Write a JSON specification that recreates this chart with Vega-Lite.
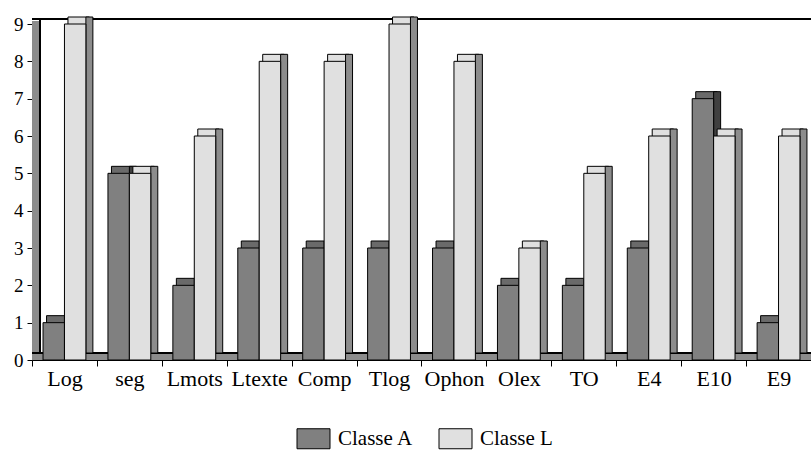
{
  "$schema": "https://vega.github.io/schema/vega-lite/v6.json",
  "autosize": {"type": "none"},
  "padding": {"left": 32, "top": 24, "right": 0, "bottom": 90},
  "width": 779,
  "height": 336,
  "background": "white",
  "config": {
    "view": {"stroke": null},
    "font": "Liberation Serif, Times New Roman, Times, serif",
    "axis": {"labelFont": "Liberation Serif, Times New Roman, Times, serif", "labelColor": "black", "domainColor": "black", "tickColor": "black", "grid": false, "title": null},
    "axisY": {"labelFontSize": 19, "tickSize": 5, "labelPadding": 4, "tickCount": 10},
    "legend": {"labelFont": "Liberation Serif, Times New Roman, Times, serif"}
  },
  "data": {"values": [
    {"cat": "Log", "series": "Classe A", "value": 1},
    {"cat": "Log", "series": "Classe L", "value": 9},
    {"cat": "seg", "series": "Classe A", "value": 5},
    {"cat": "seg", "series": "Classe L", "value": 5},
    {"cat": "Lmots", "series": "Classe A", "value": 2},
    {"cat": "Lmots", "series": "Classe L", "value": 6},
    {"cat": "Ltexte", "series": "Classe A", "value": 3},
    {"cat": "Ltexte", "series": "Classe L", "value": 8},
    {"cat": "Comp", "series": "Classe A", "value": 3},
    {"cat": "Comp", "series": "Classe L", "value": 8},
    {"cat": "Tlog", "series": "Classe A", "value": 3},
    {"cat": "Tlog", "series": "Classe L", "value": 9},
    {"cat": "Ophon", "series": "Classe A", "value": 3},
    {"cat": "Ophon", "series": "Classe L", "value": 8},
    {"cat": "Olex", "series": "Classe A", "value": 2},
    {"cat": "Olex", "series": "Classe L", "value": 3},
    {"cat": "TO", "series": "Classe A", "value": 2},
    {"cat": "TO", "series": "Classe L", "value": 5},
    {"cat": "E4", "series": "Classe A", "value": 3},
    {"cat": "E4", "series": "Classe L", "value": 6},
    {"cat": "E10", "series": "Classe A", "value": 7},
    {"cat": "E10", "series": "Classe L", "value": 6},
    {"cat": "E9", "series": "Classe A", "value": 1},
    {"cat": "E9", "series": "Classe L", "value": 6}
  ]},
  "encoding": {
    "x": {
      "field": "cat", "type": "nominal", "sort": null,
      "scale": {"paddingInner": 0.34, "paddingOuter": 0.17},
      "axis": {
        "title": null, "labelAngle": 0, "labelFontSize": 22, "tickSize": 6,
        "tickOffset": -32.46, "labelOffset": 32.46, "labelPadding": 2
      }
    }
  },
  "layer": [
    {
      "mark": {"type": "rule", "color": "black", "strokeWidth": 1, "xOffset": 8, "x2Offset": 8, "yOffset": -5},
      "encoding": {"x": null, "y": {"datum": 9, "type": "quantitative", "scale": {"domain": [0, 9], "nice": false},
        "axis": {"title": null, "values": [0,1,2,3,4,5,6,7,8,9]}}}
    },
    {
      "mark": {"type": "rule", "color": "#8c8c8c", "strokeWidth": 8, "xOffset": -28.45, "yOffset": -3, "y2Offset": -3},
      "encoding": {"x": {"datum": "Log", "type": "nominal"}, "y": {"datum": 0, "type": "quantitative"}, "y2": {"datum": 9}}
    },
    {
      "mark": {"type": "rule", "color": "black", "strokeWidth": 1, "xOffset": -24.45, "yOffset": -6, "y2Offset": -5},
      "encoding": {"x": {"datum": "Log", "type": "nominal"}, "y": {"datum": 0, "type": "quantitative"}, "y2": {"datum": 9}}
    },
    {
      "mark": {"type": "rule", "color": "#8c8c8c", "strokeWidth": 7, "xOffset": 4, "x2Offset": 4, "yOffset": -3.5},
      "encoding": {"x": null, "y": {"datum": 0, "type": "quantitative"}}
    },
    {
      "mark": {"type": "rule", "color": "black", "strokeWidth": 1, "xOffset": 7, "x2Offset": 7, "yOffset": -7},
      "encoding": {"x": null, "y": {"datum": 0, "type": "quantitative"}}
    },
    {
      "transform": [{"filter": "datum.series === 'Classe A'"}],
      "mark": {"type": "bar", "width": {"band": 0.5}, "xOffset": -7.21, "yOffset": -7, "fill": "#6a6a6a", "stroke": "black", "strokeWidth": 1},
      "encoding": {"y": {"field": "value", "type": "quantitative"}}
    },
    {
      "transform": [{"filter": "datum.series === 'Classe A'"}],
      "mark": {"type": "bar", "width": 7, "xOffset": 3.5, "yOffset": -7, "y2Offset": -3, "fill": "#404040", "stroke": "black", "strokeWidth": 1},
      "encoding": {"y": {"field": "value", "type": "quantitative"}}
    },
    {
      "transform": [{"filter": "datum.series === 'Classe A'"}],
      "mark": {"type": "bar", "width": {"band": 0.5}, "xOffset": -10.71, "stroke": "black", "strokeWidth": 1},
      "encoding": {
        "y": {"field": "value", "type": "quantitative"},
        "color": {"field": "series", "type": "nominal",
          "scale": {"domain": ["Classe A", "Classe L"], "range": ["#808080", "#e0e0e0"]},
          "legend": {"title": null, "orient": "none", "direction": "horizontal", "legendX": 261, "legendY": 394,
            "symbolType": "M-0.825,-0.5H0.825V0.5H-0.825Z", "symbolSize": 1600,
            "symbolStrokeColor": "black", "symbolStrokeWidth": 1, "symbolOpacity": 1,
            "labelFontSize": 21, "labelColor": "black",
            "labelOffset": 4, "columnPadding": 21}}
      }
    },
    {
      "transform": [{"filter": "datum.series === 'Classe L'"}],
      "mark": {"type": "bar", "width": {"band": 0.5}, "xOffset": 14.21, "yOffset": -7, "fill": "#e0e0e0", "stroke": "black", "strokeWidth": 1},
      "encoding": {"y": {"field": "value", "type": "quantitative"}}
    },
    {
      "transform": [{"filter": "datum.series === 'Classe L'"}],
      "mark": {"type": "bar", "width": 7, "xOffset": 24.92, "yOffset": -7, "y2Offset": -3, "fill": "#8c8c8c", "stroke": "black", "strokeWidth": 1},
      "encoding": {"y": {"field": "value", "type": "quantitative"}}
    },
    {
      "transform": [{"filter": "datum.series === 'Classe L'"}],
      "mark": {"type": "bar", "width": {"band": 0.5}, "xOffset": 10.71, "stroke": "black", "strokeWidth": 1},
      "encoding": {
        "y": {"field": "value", "type": "quantitative"},
        "color": {"field": "series", "type": "nominal"}
      }
    }
  ]
}
